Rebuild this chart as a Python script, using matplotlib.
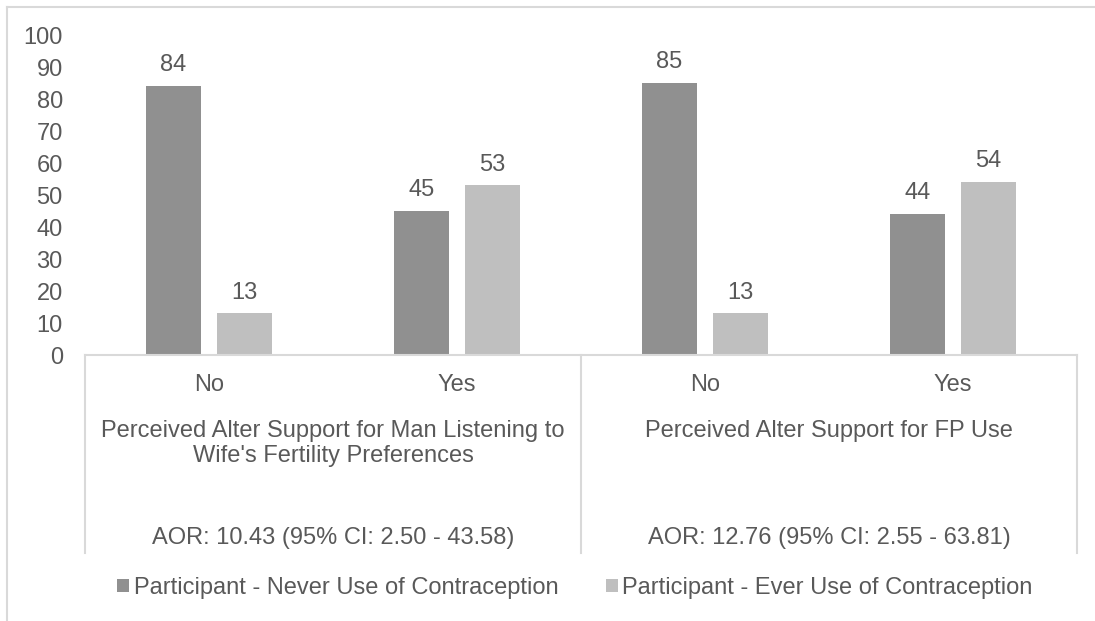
import numpy as np
import matplotlib
matplotlib.use("Agg")
import matplotlib.pyplot as plt
from matplotlib.lines import Line2D

plt.rcParams["font.family"] = ["Liberation Sans", "DejaVu Sans"]
plt.rcParams["font.size"] = 17

# data
categories = ["No", "Yes", "No", "Yes"]
never_use = [84, 45, 85, 44]
ever_use = [13, 53, 13, 54]
groups = ["Perceived Alter Support for Man Listening to\nWife's Fertility Preferences",
          "Perceived Alter Support for FP Use"]
aor_labels = ["AOR: 10.43 (95% CI: 2.50 - 43.58)",
              "AOR: 12.76 (95% CI: 2.55 - 63.81)"]
series_names = ["Participant - Never Use of Contraception",
                "Participant - Ever Use of Contraception"]

txt = "#595959"
line_c = "#d9d9d9"
W, H = 1095, 621

fig = plt.figure(figsize=(W / 100, H / 100), dpi=100, facecolor="white")
ax = fig.add_axes([85 / W, 1 - 355 / H, (1077 - 85) / W, 320 / H])

x = np.arange(len(categories))
bw = 0.222
off = 0.143
b1 = ax.bar(x - off, never_use, bw, color="#909090", label=series_names[0])
b2 = ax.bar(x + off, ever_use, bw, color="#bfbfbf", label=series_names[1])
ax.bar_label(b1, padding=7, color=txt, fontsize=17)
ax.bar_label(b2, padding=7, color=txt, fontsize=17)

ax.set_xlim(-0.5, len(categories) - 0.5)
ax.set_ylim(0, 100)
ax.set_yticks(range(0, 101, 10))
ax.tick_params(axis="y", length=0, pad=16, labelcolor=txt)
ax.set_xticks([])
for s in ["top", "right", "left"]:
    ax.spines[s].set_visible(False)
ax.spines["bottom"].set_color(line_c)
ax.spines["bottom"].set_linewidth(1.5)

# multi-level category axis
tr = ax.get_xaxis_transform()
px = 1 / 320
for i, c in enumerate(categories):
    ax.text(x[i], -30 * px, c, transform=tr, ha="center", va="center", color=txt)
for g in range(len(groups)):
    xc = 2 * g + 0.5
    ax.text(xc, -65 * px, groups[g], transform=tr, ha="center", va="top",
            color=txt, linespacing=1.2)
    ax.text(xc, -183 * px, aor_labels[g], transform=tr, ha="center", va="center", color=txt)
for xs in [-0.5, 1.5, 3.5]:
    ax.plot([xs, xs], [0, -198 * px], transform=tr, color=line_c, lw=1.5, clip_on=False)

fig.legend(loc="center", bbox_to_anchor=(575 / W, 1 - 588 / H), ncol=2, frameon=False,
           handlelength=0.5, handleheight=0.5, handletextpad=0.2, columnspacing=2.0,
           labelcolor=txt, fontsize=17)

# chart border (cut off on right and bottom)
fig.add_artist(Line2D([7 / W, 1], [1 - 7 / H, 1 - 7 / H], color=line_c, lw=1.5))
fig.add_artist(Line2D([7 / W, 7 / W], [0, 1 - 7 / H], color=line_c, lw=1.5))

fig.savefig("out.png", dpi=100, facecolor="white")
